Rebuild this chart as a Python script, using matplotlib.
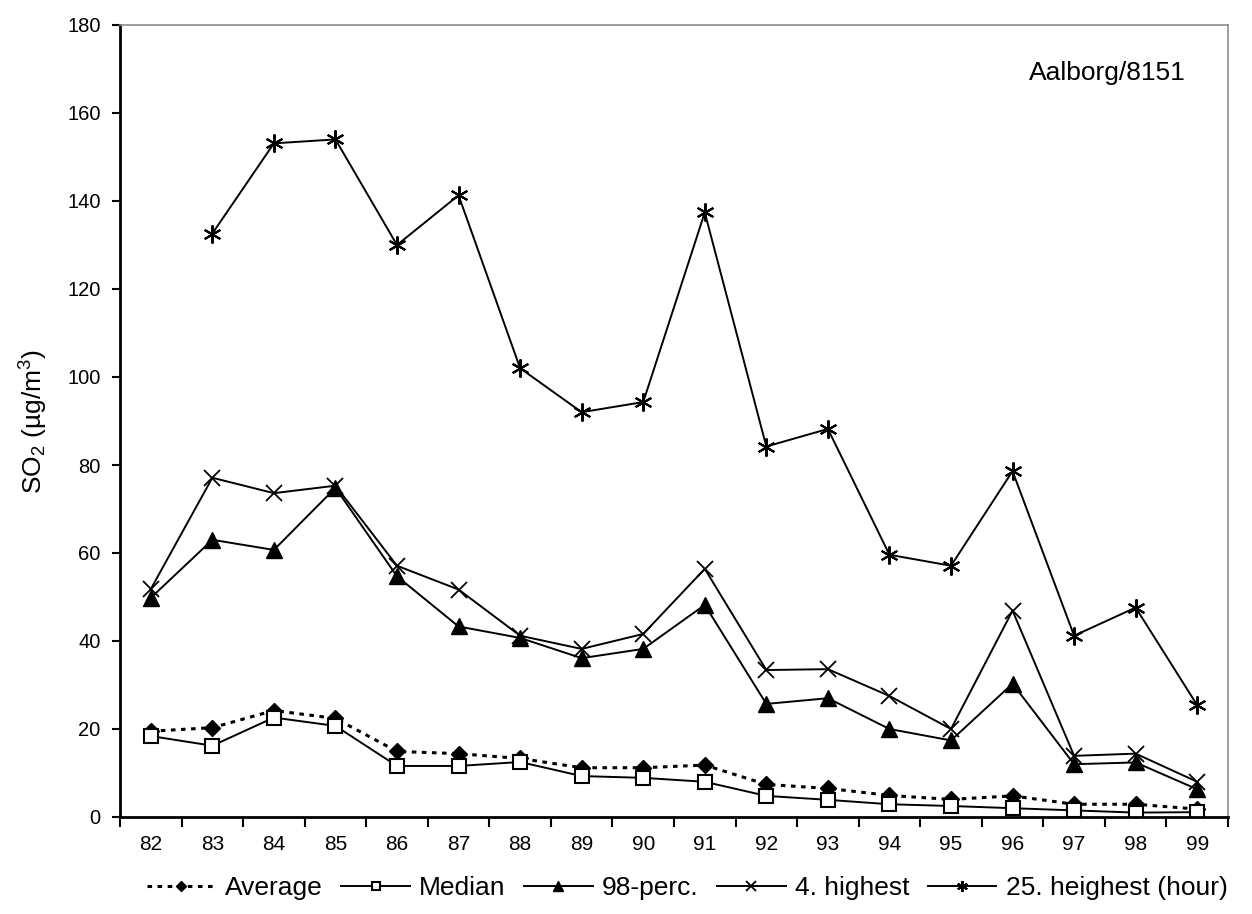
import numpy as np
import matplotlib
matplotlib.use('Agg')
import matplotlib.pyplot as plt
from matplotlib.ticker import FixedLocator, NullFormatter

plt.rcParams['font.family'] = ['Liberation Sans', 'DejaVu Sans']
plt.rcParams['mathtext.fontset'] = 'custom'
plt.rcParams['mathtext.rm'] = 'Liberation Sans'
plt.rcParams['mathtext.it'] = 'Liberation Sans'

years = ['82', '83', '84', '85', '86', '87', '88', '89', '90',
         '91', '92', '93', '94', '95', '96', '97', '98', '99']

average = [19.5, 20.3, 24.2, 22.4, 14.9, 14.4, 13.3, 11.2, 11.2,
           11.8, 7.4, 6.5, 4.9, 4.0, 4.8, 2.9, 2.9, 1.8]
median = [18.4, 16.2, 22.6, 20.7, 11.6, 11.6, 12.5, 9.3, 8.9,
          8.0, 4.8, 3.9, 2.9, 2.5, 2.0, 1.5, 1.0, 1.1]
perc98 = [49.8, 63.0, 60.7, 74.8, 54.7, 43.3, 40.7, 36.1, 38.2,
          48.2, 25.7, 27.0, 20.0, 17.4, 30.3, 12.0, 12.4, 6.3]
highest4 = [51.8, 77.1, 73.6, 75.3, 57.1, 51.7, 41.2, 38.2, 41.6,
            56.4, 33.4, 33.6, 27.5, 20.0, 46.9, 13.9, 14.4, 8.0]
highest25 = [np.nan, 132.6, 153.1, 154.0, 130.0, 141.3, 102.0, 92.0, 94.3,
             137.4, 84.2, 88.2, 59.6, 57.1, 78.6, 41.2, 47.6, 25.4]

fig = plt.figure(figsize=(12.52, 9.14), dpi=100)
ax = fig.add_axes([120/1252, 1-817/914, (1228-120)/1252, (817-25)/914])

x = np.arange(len(years))
ax.plot(x, average, color='black', linestyle=(0, (1.5, 1.8)), lw=2.2,
        marker='D', ms=8, mfc='black', mec='black', label='Average')
ax.plot(x, median, color='black', lw=1.4, marker='s', ms=10,
        mfc='white', mec='black', mew=1.5, label='Median')
ax.plot(x, perc98, color='black', lw=1.4, marker='^', ms=11,
        mfc='black', mec='black', label='98-perc.')
ax.plot(x, highest4, color='black', lw=1.4, marker='x', ms=11,
        mew=1.3, label='4. highest')
ax.plot(x, highest25, color='black', lw=1.4, marker=(6, 2, 0), ms=13,
        mew=1.5, label='25. heighest (hour)')

ax.set_xlim(-0.5, len(years) - 0.5)
ax.set_ylim(0, 180)
ax.set_yticks(np.arange(0, 181, 20))

# ticks sit between categories, labels at the centers
ax.xaxis.set_major_locator(FixedLocator(np.arange(-0.5, len(years), 1.0)))
ax.xaxis.set_major_formatter(NullFormatter())
ax.xaxis.set_minor_locator(FixedLocator(x))
ax.set_xticklabels(years, minor=True)
ax.tick_params(axis='x', which='major', length=7, width=1.5, direction='out')
ax.tick_params(axis='x', which='minor', length=0, pad=13, labelsize=15)
ax.tick_params(axis='y', length=6, width=1.5, direction='out', pad=8, labelsize=14.5)

for side in ['left', 'bottom']:
    ax.spines[side].set_linewidth(2)
    ax.spines[side].set_color('black')
for side in ['top', 'right']:
    ax.spines[side].set_linewidth(1.2)
    ax.spines[side].set_color('#8c8c8c')

ax.set_ylabel('SO$_2$ (µg/m$^3$)', fontsize=19, labelpad=12)
ax.text(0.962, 0.94, 'Aalborg/8151', transform=ax.transAxes, fontsize=19,
        ha='right', va='center')

fig.legend(loc='center', bbox_to_anchor=(0.549, 1-888/914), ncol=5, frameon=False,
           fontsize=19, handlelength=2.6, handletextpad=0.35, columnspacing=0.7,
           markerscale=0.6)

fig.savefig('out.png', dpi=100)
